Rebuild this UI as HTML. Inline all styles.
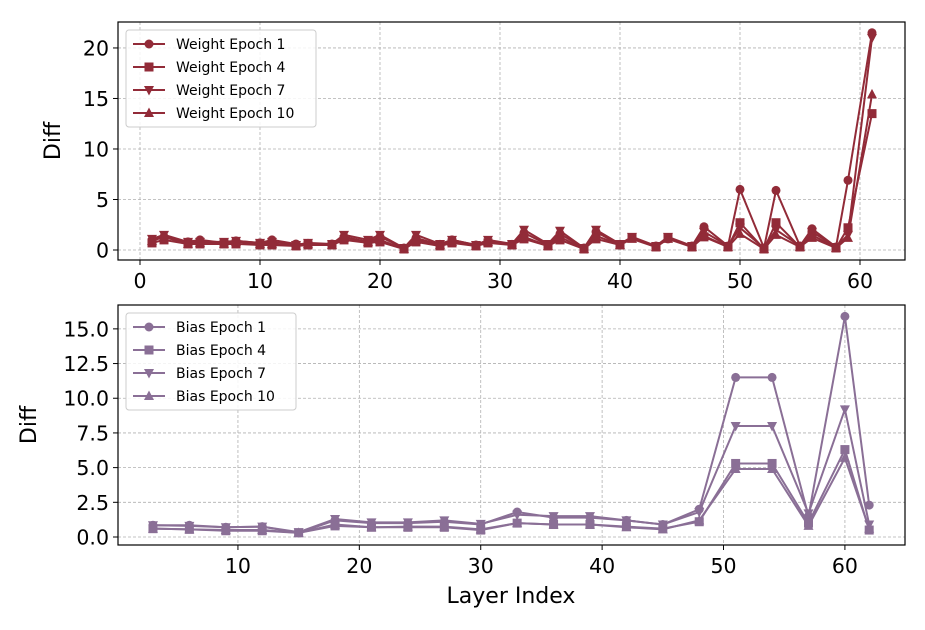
<!DOCTYPE html>
<html><head><meta charset="utf-8"><style>
body{margin:0;background:#fff}
text{font-family:"DejaVu Sans","Liberation Sans",sans-serif}
</style></head><body>
<svg id="c" width="925" height="625" xmlns="http://www.w3.org/2000/svg"></svg>
<script>
const topX=[1,2,4,5,7,8,10,11,13,14,16,17,19,20,22,23,25,26,28,29,31,32,34,35,37,38,40,41,43,44,46,47,49,50,52,53,55,56,58,59,61];
const wE1=[1.0,1.3,0.8,1.0,0.7,0.9,0.7,1.0,0.6,0.6,0.6,1.3,0.8,1.3,0.2,1.2,0.5,1.0,0.5,0.9,0.5,1.7,0.5,1.6,0.2,1.8,0.5,1.2,0.4,1.1,0.4,2.3,0.4,6.0,0.2,5.9,0.4,2.1,0.3,6.9,21.5];
const wE4=[0.7,1.0,0.6,0.6,0.6,0.6,0.5,0.5,0.4,0.5,0.5,1.0,0.7,0.8,0.1,0.8,0.4,0.7,0.4,0.7,0.5,1.1,0.4,1.0,0.1,1.1,0.5,1.2,0.3,1.2,0.3,1.3,0.3,2.7,0.1,2.7,0.3,1.5,0.2,2.2,13.5];
const wE7=[1.1,1.5,0.8,0.8,0.8,0.9,0.7,0.8,0.5,0.7,0.6,1.5,1.0,1.5,0.2,1.5,0.6,1.0,0.5,1.0,0.6,2.0,0.6,1.9,0.2,2.0,0.6,1.3,0.4,1.3,0.4,1.8,0.4,2.2,0.2,2.0,0.4,1.8,0.3,1.5,21.0];
const wE10=[0.9,1.3,0.6,0.7,0.6,0.8,0.6,0.6,0.4,0.6,0.5,1.2,0.8,1.0,0.1,1.0,0.5,0.8,0.4,0.8,0.5,1.3,0.4,1.3,0.1,1.4,0.5,1.1,0.3,1.1,0.3,1.4,0.3,1.6,0.1,1.5,0.3,1.2,0.2,1.2,15.4];
const botX=[3,6,9,12,15,18,21,24,27,30,33,36,39,42,45,48,51,54,57,60,62];
const bE1=[0.85,0.85,0.7,0.75,0.3,1.2,1.0,1.0,1.1,0.9,1.8,1.4,1.4,1.2,0.9,2.0,11.5,11.5,1.5,15.9,2.3];
const bE4=[0.6,0.55,0.45,0.45,0.3,0.8,0.7,0.7,0.7,0.5,1.0,0.9,0.9,0.75,0.6,1.1,5.3,5.3,1.0,6.3,0.5];
const bE7=[0.85,0.8,0.7,0.75,0.35,1.3,1.05,1.05,1.2,0.95,1.6,1.5,1.5,1.2,0.9,1.8,8.0,8.0,1.7,9.2,0.9];
const bE10=[0.6,0.55,0.5,0.5,0.3,0.9,0.7,0.75,0.75,0.55,1.0,0.9,0.9,0.7,0.55,1.2,4.9,4.9,0.8,5.7,0.6];
const topXTicks=[0,10,20,30,40,50,60];
const topYTicks=[0,5,10,15,20];
const botXTicks=[10,20,30,40,50,60];
const botYTicks=[0,2.5,5,7.5,10,12.5,15];
const topLabels=["Weight Epoch 1","Weight Epoch 4","Weight Epoch 7","Weight Epoch 10"];
const botLabels=["Bias Epoch 1","Bias Epoch 4","Bias Epoch 7","Bias Epoch 10"];

const svg=document.getElementById('c');const NS="http://www.w3.org/2000/svg";
function el(t,a,p){const e=document.createElementNS(NS,t);for(const k in a)e.setAttribute(k,a[k]);(p||svg).appendChild(e);return e;}
function marker(g,type,x,y,col){
  const r=4.5;let e;
  if(type==0)e=el('circle',{cx:x,cy:y,r:r,fill:col},g);
  else if(type==1)e=el('rect',{x:x-r,y:y-r,width:2*r,height:2*r,fill:col},g);
  else if(type==2)e=el('polygon',{points:`${x-r-0.5},${y-r+0.5} ${x+r+0.5},${y-r+0.5} ${x},${y+r+1}`,fill:col},g);
  else e=el('polygon',{points:`${x-r-0.5},${y+r-0.5} ${x+r+0.5},${y+r-0.5} ${x},${y-r-1}`,fill:col},g);
  return e;
}
function panel(o){
  const g=el('g',{});
  
  
  const sx=v=>o.x0+(v-o.dx0)/(o.dx1-o.dx0)*(o.x1-o.x0);
  const sy=v=>o.y1-(v-o.dy0)/(o.dy1-o.dy0)*(o.y1-o.y0);
  o.xt.forEach(t=>{const x=sx(t);
    const gl=el('line',{x1:x,x2:x,y1:o.y0,y2:o.y1,stroke:'#b0b0b0','stroke-dasharray':'3,2','stroke-width':0.8},g);
    
    el('line',{x1:x,x2:x,y1:o.y1,y2:o.y1+5,stroke:'#000','stroke-width':1},g);
    const tx=el('text',{x:x,y:o.y1+28,'text-anchor':'middle','font-size':20.5},g);tx.textContent=t;
    });
  o.yt.forEach(t=>{const y=sy(t);
    const gl=el('line',{x1:o.x0,x2:o.x1,y1:y,y2:y,stroke:'#b0b0b0','stroke-dasharray':'3,2','stroke-width':0.8},g);
    
    el('line',{x1:o.x0-5,x2:o.x0,y1:y,y2:y,stroke:'#000','stroke-width':1},g);
    const tx=el('text',{x:o.x0-9,y:y+7.5,'text-anchor':'end','font-size':20.5},g);tx.textContent=o.fmt(t);
    });
  o.series.forEach((s,i)=>{
    const sg=el('g',{},g);
    
    el('polyline',{points:o.xs.map((x,j)=>sx(x)+','+sy(s[j])).join(' '),fill:'none',stroke:o.col,'stroke-width':2},sg);
    o.xs.forEach((x,j)=>{const m=marker(sg,i,sx(x),sy(s[j]),o.col);
      });
  });
  el('rect',{x:o.x0,y:o.y0,width:o.x1-o.x0,height:o.y1-o.y0,fill:'none',stroke:'#000','stroke-width':1.2},g);
  const yl=el('text',{x:0,y:0,'font-size':22,'text-anchor':'middle',transform:`translate(${o.ylx},${(o.y0+o.y1)/2}) rotate(-90)`},g);
  yl.textContent='Diff';
  const lg=el('g',{},g);
  el('rect',{x:o.lx,y:o.ly,width:o.lw,height:97,rx:3,fill:'#fff','fill-opacity':0.85,stroke:'#ccc'},lg);
  o.labels.forEach((l,i)=>{const y=o.ly+14+i*23;
    const le=el('g',{},lg);
    el('line',{x1:o.lx+7,x2:o.lx+39,y1:y,y2:y,stroke:o.col,'stroke-width':2},le);
    marker(le,i,o.lx+23,y,o.col);
    const t=el('text',{x:o.lx+50,y:y+5,'font-size':14},le);t.textContent=l;});
}
panel({name:'weight-panel',x0:118,x1:905,y0:22,y1:260,dx0:-1.833,dx1:63.75,dy0:-0.99,dy1:22.57,xt:topXTicks,yt:topYTicks,
  fmt:t=>t,xs:topX,series:[wE1,wE4,wE7,wE10],col:'#922b38',labels:topLabels,lx:126,ly:30,lw:190,ylx:60});
panel({name:'bias-panel',x0:118,x1:905,y0:305,y1:545,dx0:0.12,dx1:64.95,dy0:-0.577,dy1:16.72,xt:botXTicks,yt:botYTicks,
  fmt:t=>t.toFixed(1),xs:botX,series:[bE1,bE4,bE7,bE10],col:'#8a6f96',labels:botLabels,lx:126,ly:313,lw:170,ylx:36});
const xl=el('text',{x:511,y:603,'text-anchor':'middle','font-size':22});xl.textContent='Layer Index';


</script>
</body></html>
